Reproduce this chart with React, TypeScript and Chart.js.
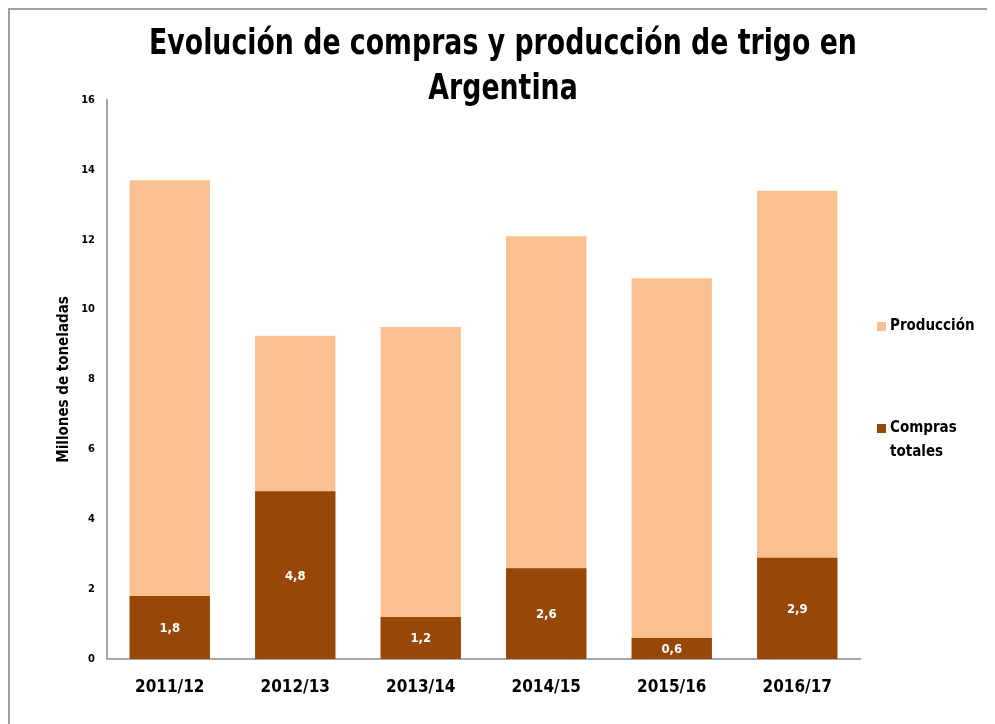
import React, { useEffect, useRef } from "react";
import { Chart, registerables } from "chart.js";

Chart.register(...registerables);

const categories = ["2011/12", "2012/13", "2013/14", "2014/15", "2015/16", "2016/17"];
const produccion = [13.7, 9.25, 9.5, 12.1, 10.9, 13.4];
const compras = [1.8, 4.8, 1.2, 2.6, 0.6, 2.9];
const yTicks = [0, 2, 4, 6, 8, 10, 12, 14, 16];
const titleLines = ["Evolución de compras y producción de trigo en", "Argentina"];
const yTitle = "Millones de toneladas";
const legendItems = [
  { lines: ["Producción"], color: "#FAC090" },
  { lines: ["Compras", "totales"], color: "#974706" },
];

const FONT = '"Liberation Sans Narrow", "DejaVu Sans Condensed", "Arial Narrow", sans-serif';

export default function App() {
  const ref = useRef<HTMLCanvasElement | null>(null);

  useEffect(() => {
    const canvas = ref.current;
    if (!canvas) return;
    const prevOverflow = document.body.style.overflow;
    document.body.style.overflow = "hidden";

    const overlay = {
      id: "overlay",
      afterDatasetsDraw(chart: any) {
        const ctx = chart.ctx;
        const meta = chart.getDatasetMeta(0);
        ctx.save();
        ctx.fillStyle = "#ffffff";
        ctx.font = `bold 13px ${FONT}`;
        ctx.textAlign = "center";
        ctx.textBaseline = "middle";
        meta.data.forEach((bar: any, i: number) => {
          const v = compras[i];
          ctx.fillText(v.toFixed(1).replace(".", ","), bar.x, (bar.y + bar.base) / 2 + 1);
        });
        ctx.restore();
      },
      afterDraw(chart: any) {
        const ctx = chart.ctx;
        ctx.save();
        // Title (horizontally condensed)
        ctx.fillStyle = "#000000";
        ctx.font = `bold 35px ${FONT}`;
        ctx.textAlign = "center";
        ctx.textBaseline = "middle";
        titleLines.forEach((t, i) => {
          ctx.save();
          ctx.translate(495, 37 + i * 45);
          ctx.scale(0.85, 1);
          ctx.fillText(t, 0, 0);
          ctx.restore();
        });
        // Legend
        ctx.textAlign = "left";
        ctx.font = `bold 15px ${FONT}`;
        const starts = [318, 420];
        legendItems.forEach((item, i) => {
          const y = starts[i];
          ctx.fillStyle = item.color;
          ctx.fillRect(869, y - 4, 9, 9);
          ctx.fillStyle = "#000000";
          item.lines.forEach((l, j) => ctx.fillText(l, 882, y + j * 24));
        });
        ctx.restore();
      },
    };

    const chart = new Chart(canvas, {
      type: "bar",
      data: {
        labels: categories,
        datasets: [
          {
            label: "Compras totales",
            data: compras,
            backgroundColor: "#974706",
            categoryPercentage: 0.64,
            barPercentage: 1,
            order: 0,
          },
          {
            label: "Producción",
            data: produccion,
            backgroundColor: "#FAC090",
            categoryPercentage: 0.64,
            barPercentage: 1,
            order: 1,
          },
        ],
      },
      options: {
        animation: false,
        responsive: true,
        maintainAspectRatio: false,
        layout: { padding: { left: 0, right: 135, top: 92, bottom: 0 } },
        plugins: {
          legend: { display: false },
          title: { display: false },
          tooltip: { enabled: false },
        },
        scales: {
          x: {
            stacked: true,
            grid: { display: false, drawTicks: false },
            border: { display: true, color: "#A6A6A6", width: 2 },
            ticks: {
              color: "#000000",
              font: { family: FONT, size: 17, weight: "bold" },
              padding: 18,
            },
            afterFit(scale: any) {
              scale.height = 65;
            },
          },
          y: {
            stacked: false,
            min: 0,
            max: 16,
            afterBuildTicks(scale: any) {
              scale.ticks = yTicks.map((v) => ({ value: v }));
            },
            grid: { display: false, drawTicks: false },
            border: { display: true, color: "#A6A6A6", width: 2 },
            ticks: {
              color: "#000000",
              font: { family: FONT, size: 11, weight: "bold" },
              padding: 12,
            },
            title: {
              display: true,
              text: yTitle,
              color: "#000000",
              font: { family: FONT, size: 15, weight: "bold" },
              padding: { top: 47, bottom: 0 },
            },
            afterFit(scale: any) {
              scale.width = 99;
            },
          },
        },
      },
      plugins: [overlay],
    });

    return () => {
      chart.destroy();
      document.body.style.overflow = prevOverflow;
    };
  }, []);

  return (
    <div
      style={{
        position: "relative",
        width: 995,
        height: 730,
        boxSizing: "border-box",
        borderTop: "2px solid #A0A0A0",
        borderLeft: "2px solid #A0A0A0",
      }}
    >
      <div style={{ position: "absolute", left: -2, top: -2, width: 987, height: 716 }}>
        <canvas ref={ref} />
      </div>
    </div>
  );
}
